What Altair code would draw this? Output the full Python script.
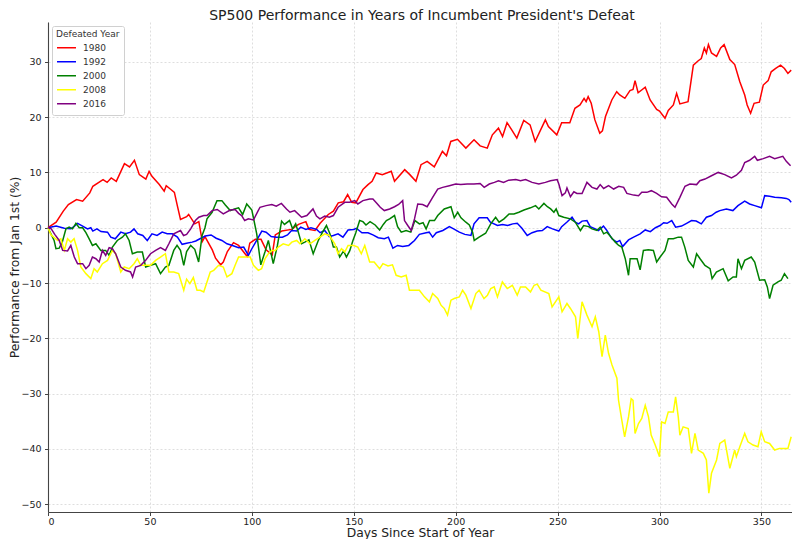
import pandas as pd
import altair as alt

# values (day of year, % change from Jan 1st)
days_1980 = [0, 4, 7.5, 10, 14, 17, 20.5, 22, 27, 29, 31, 33.5, 37.5, 40, 42.4, 44.8, 48, 49.6, 51, 54.6,
             57, 58, 60, 62, 63.5, 65, 68, 69, 72, 74, 75.7, 77, 80.6, 82.2, 84.7, 86, 88, 91, 93.5, 97.7,
             99, 101.7, 104.5, 107, 110, 111.5, 114.7, 119.5, 122.9, 126.5, 128, 131, 133.5, 137.5, 140,
             142.4, 145, 147, 149, 151, 154.5, 157, 159, 161, 164, 168.4, 170, 175, 177.5, 180.5, 183, 186,
             189.5, 193.5, 195.5, 197.6, 200.9, 205, 209, 212, 215.5, 218, 221, 223, 225.2, 227.5, 230,
             233.4, 236.5, 239, 244, 245.5, 249.6, 252, 256, 258.5, 261, 263, 264, 265, 266.5, 268.3, 270.7,
             272, 273.5, 276.6, 279, 280.5, 283, 285.5, 287, 288, 289.5, 293, 295.4, 298.6, 300, 302.7,
             304.3, 306.8, 308.4, 310, 314, 316.6, 319, 320.5, 322, 323, 324, 325.5, 328, 330, 331.7, 334.5,
             336.9, 339.4, 341.8, 343, 344.7, 346.4, 349, 350.9, 353.3, 354.8, 357, 359.4, 361.3, 363, 364.6]
perf_1980 = [0, 1, 3, 4.2, 5.1, 4.8, 6.3, 7.5, 8.7, 8.2, 9, 8.4, 11.6, 11, 12.2, 9.6, 8.8, 10.2, 9.3, 7.8,
             6.6, 7.6, 7, 6.4, 3.9, 1.5, 2, 2.4, 0.7, 1.1, -2.5, -1.6, -4, -5.5, -6.7, -6.2, -4.3, -2.7, -3.2,
             -5.2, -2.8, -2.1, -2.1, -4, -4.9, -1.3, -0.6, -0.3, 0.6, 1.1, -0.3, -0.5, 0.8, 2.4, 3, 4.5, 4.7,
             6, 4.6, 4.5, 6.9, 7.8, 8.4, 9.9, 9.6, 10.2, 8.4, 10.5, 9.6, 8.4, 11.4, 12, 11, 13.8, 13, 15.6,
             16, 14.4, 15.9, 14.8, 14.4, 16.8, 18, 16.5, 19, 17.7, 16.2, 19.4, 18.6, 15.6, 19.5, 18.3, 16.8,
             19, 19, 21.6, 22.2, 23.4, 22.8, 23.7, 22.5, 19.5, 17.1, 17.5, 20.1, 23.1, 24.6, 24, 23.4, 24.8,
             25, 26.6, 24.4, 25.4, 23.1, 21.4, 21.1, 19.8, 21.2, 22.2, 24.3, 22.4, 22.8, 29.4, 30.2, 30.6,
             32.5, 31.6, 33.1, 31.6, 31, 32.5, 33.1, 30.4, 29.5, 26.4, 24, 22.2, 20.7, 22.5, 22.7, 25.8, 26.6,
             28.2, 28.8, 29.4, 28.8, 27.9, 28.5]

days_1992 = [0, 4, 8, 11.2, 13, 14.5, 17, 19.4, 21, 22, 24, 26, 29.2, 30.8, 33, 35.7, 38, 40.5, 42.2, 44,
             46.5, 48.7, 51, 53.5, 56, 58.5, 61, 63.5, 65.8, 68, 70.7, 72.5, 75, 77.2, 80, 82.5, 85.3, 87.8,
             90.5, 93.5, 96, 98.3, 100, 102.5, 104.9, 107, 109.5, 112, 115, 117.5, 119.5, 122, 124, 126.5,
             129, 131.8, 133.5, 135.8, 138, 140, 142.3, 144.7, 147.2, 150, 151.3, 154, 157, 159.4, 162, 165,
             167, 169.2, 171.5, 174, 177, 179.8, 182.2, 185.5, 187, 188.7, 190.5, 193.7, 196.9, 199, 201.8,
             204.5, 207.5, 209, 211.5, 215.5, 217, 220.5, 223, 225.5, 228, 230.2, 232.5, 235.1, 237.5, 240,
             242.5, 244.9, 247.5, 250.6, 252, 254.5, 257.1, 258.7, 260.3, 262, 264.4, 266, 268.5, 270, 272.5,
             274, 276.7, 279, 280.5, 281.9, 284.8, 287.3, 290.5, 293, 295.5, 298, 300.3, 302, 303.7, 306,
             307.9, 310.8, 313.3, 315.7, 318, 320.5, 323, 325.5, 327.8, 329.6, 332.8, 336, 338.5, 341.8,
             344.2, 346.7, 350, 351.6, 354, 356.5, 359.8, 362.2, 363.5, 364.6]
perf_1992 = [0, 0.3, -0.1, -0.2, 0.3, 0.8, 0.3, -0.2, 0, -0.6, -0.2, -0.7, -0.8, -1.7, -2, -0.8, -1.1,
             -0.8, -0.2, -1.1, -1.4, -2.3, -1.1, -1.4, -0.8, -1.1, -1.1, -1.7, -3, -2.8, -2.6, -2.4, -1.9,
             -1.5, -1.3, -1.9, -2.3, -2.9, -3.2, -3.6, -3.5, -5, -3.8, -2.2, -0.6, -0.8, -1.6, -1.7, -1.7,
             -1.3, -0.5, -0.6, 0.1, -0.3, 0, -0.3, -0.9, -0.5, -1.6, -1.4, -1.1, -1.7, -0.4, -0.3, -0.1,
             -0.9, -0.9, -1.3, -1.8, -2, -1.7, -3.7, -3.2, -3.4, -3.2, -2.3, -1.2, -0.9, -0.8, -1.7, -0.9,
             -0.5, 0.2, -0.2, -0.8, -1.2, -1.4, 0.7, 1.8, 1.8, 1, 0.4, 0.6, 0.4, 0.7, 0.8, -0.1, -1.4, -0.9,
             -0.6, -0.5, 0.2, -0.2, -0.6, 0.2, 1, 1.9, 1, 0.7, 1.2, 1.3, 0.2, -0.2, -0.5, 0.3, -0.4, -2,
             -2.6, -2.3, -3.4, -2.2, -1.7, -1.1, -0.4, -0.7, 0, 0.4, 0.9, 0.8, 1.3, 0.1, 0.3, 0.8, 1.3, 1.2,
             0.7, 1.9, 2.2, 2.8, 3.1, 3.4, 3.1, 4, 4.8, 4.3, 4, 3.6, 5.8, 5.7, 5.5, 5.4, 5.3, 5.1, 4.6]

days_2000 = [0, 3, 3.9, 5.5, 7, 8.8, 10.4, 12, 13.7, 15.3, 17, 18.6, 20.2, 21.8, 23.5, 25.9, 28.3, 30,
             31.6, 34, 36.5, 38, 39.8, 41.4, 43.8, 46.3, 47.9, 50.3, 52.8, 55.2, 57.6, 59.3, 61.7, 63.3, 65,
             66.6, 68, 70, 72, 73.9, 75.6, 77, 78, 80.5, 82.9, 85.3, 87, 89.4, 91.5, 93.5, 95.5, 97.5, 100,
             102.4, 104.4, 106.5, 108.1, 110.5, 112.5, 114.6, 116, 118.5, 120, 121.5, 122.8, 124.4, 126, 128,
             130.1, 132.5, 134.7, 136.6, 138.3, 140, 141.5, 143.1, 145, 146.4, 148, 149.6, 151, 152.9, 154.5,
             156, 158, 160.5, 162.7, 164.5, 166, 167.6, 170, 171.5, 173.3, 175.7, 178, 180, 182.2, 184,
             185.5, 187.2, 189.6, 191.2, 194.4, 197.7, 199.3, 201, 202.6, 205, 206.7, 208.3, 209.1, 211.5,
             214.7, 217.2, 219.6, 221.3, 223.7, 226.2, 228.6, 231, 233.5, 236.7, 239.2, 240.8, 243.3, 245,
             246.6, 248.2, 249.3, 250.6, 253, 256.3, 258.7, 261.2, 262.8, 265.2, 266.9, 269.3, 270.9, 272.6,
             274.2, 276.7, 278.3, 280, 281.5, 283.2, 284.8, 285.6, 287.3, 289, 290.5, 292.1, 294.5, 297,
             298.6, 300.3, 302.7, 304.3, 306.8, 309.2, 310.8, 312.4, 314.1, 316.6, 318.2, 319.9, 322.3,
             324.8, 325.8, 327.9, 331.2, 333.7, 336.1, 337.7, 338.5, 340.2, 341.8, 345, 346.7, 349.1, 351.6,
             352.9, 354, 355.7, 358.1, 359.7, 361.3, 363]
perf_2000 = [0, -2.3, -3.8, -3.7, -2.6, -0.2, 0.1, -0.2, 0.8, 0, 0, -0.9, -2, -3.2, -2.9, -4.1, -4.1, -5,
             -3.5, -2.3, -1.7, -1.1, -2.3, -4.7, -4.4, -4.4, -7.1, -6.8, -6.5, -8.3, -7.1, -6.8, -4.1, -3.2,
             -4.1, -6.8, -4.3, -3.2, -3.9, -6.2, -1.4, 0, 1.6, 2.8, 4.9, 4.9, 4.1, 3.1, 3.4, 3.6, 2.4, 4.3,
             3.2, -1.1, -6.7, -4.3, -2.3, -6.5, -3.3, 1.2, 0.6, 1.3, -0.2, 0.7, -0.8, -2.9, -2.6, -2.2, -4.7,
             -2.4, -0.8, 0.4, -1.1, -3.5, -3.5, -5.3, -4.2, -5.3, -4.2, -2.3, -0.9, 1.3, 1.1, 0.5, 1.1, 0.5,
             -0.4, 0.6, 1.3, 1.6, 2.2, 0.2, -0.8, -0.5, -0.8, 1.3, 0.7, 0.9, -0.2, 1.3, 1.3, 2.2, 3.4, 3.8,
             1.8, 2.8, 1.8, 1, 0.5, -0.8, -2.3, -1.7, -1, 0.7, 1.9, 1, 1.6, 2.5, 2.5, 2.8, 3.2, 3.6, 4, 3.4,
             4.4, 3.8, 3.4, 2.8, 3.4, 2.2, 1.9, 1.6, 1, -0.5, 0.4, 0.2, -0.2, -0.5, 0.1, -1.1, -0.8, -1.9,
             -2.6, -3.2, -3.5, -5.6, -8.6, -5.6, -5.6, -5.6, -7.6, -4.1, -4, -4.1, -6.2, -5.3, -4.1, -2, -2,
             -1.7, -1.7, -3.5, -5.9, -7.1, -4.7, -5.6, -6.8, -7.4, -9.2, -8, -7.4, -9.6, -8.9, -8.9, -5.6,
             -7.4, -5.9, -5.3, -6.2, -9.5, -9.4, -10.7, -12.8, -10.4, -9.8, -9.5, -8.3, -9.2]

days_2008 = [0, 1.5, 4.7, 6.3, 8, 9.6, 11.2, 12.8, 14.5, 16.1, 18.6, 21, 22.6, 24.2, 26.7, 29.2, 31.6,
             33.2, 35.7, 37.4, 39.8, 42.2, 43.8, 45.5, 47.9, 50.3, 52.8, 55.2, 57.6, 59.3, 61.7, 64.1, 66.6,
             68, 69.6, 71.3, 73.1, 74.7, 76.4, 78, 79.6, 81.3, 83.7, 86, 87.8, 90.2, 91.8, 93.5, 96.7, 99.2,
             100.8, 103.2, 104.8, 106.5, 108.1, 109.8, 111.5, 113, 115.4, 118, 119.6, 122, 123.6, 126, 128.5,
             130.9, 133.4, 135.8, 138, 140.7, 142.3, 144, 145.6, 147.2, 150, 152, 153.7, 155.4, 157.8, 160,
             162.7, 164.3, 166.8, 169, 170.8, 173.3, 175.7, 177.3, 179.8, 182.2, 184.7, 187.1, 188.7, 191.2,
             192.8, 194.4, 196, 197.7, 199.3, 201.8, 203.4, 205, 207.5, 209.9, 211.5, 213.9, 215.6, 217.2,
             218.9, 220.5, 222.9, 225.3, 227.8, 230.2, 231.8, 234.3, 236.7, 238.5, 240, 241.8, 245.7, 247.3,
             250.6, 252.2, 254.6, 256.3, 258.8, 259.9, 262, 264.4, 266.9, 268.5, 270.2, 271.8, 273.4, 275,
             276.7, 279.1, 279.9, 281.5, 282.9, 284.8, 286.1, 287, 288, 289.7, 291.3, 293, 294.6, 295.9,
             297.9, 300, 301, 302.7, 304.3, 306.8, 307.9, 309.2, 310, 311.6, 314.1, 315.7, 317.4, 319, 321.5,
             323, 324.2, 325.5, 328, 329.6, 332, 334.5, 336.9, 337.7, 339.4, 341.8, 343.4, 345.9, 348.3,
             349.9, 351.6, 354, 356.5, 358.9, 361.3, 363, 364.6]
perf_2008 = [0, -1.3, -2.3, -2, -4.1, -2, -2.6, -2, -4.1, -7.1, -8.3, -9.2, -7.4, -8, -6.5, -5.9, -4.1,
             -4.7, -8, -7.1, -7.4, -6.5, -5.6, -6.8, -6.8, -6.8, -5.9, -5.3, -4.7, -8, -8, -8.3, -11.3, -9.3,
             -10.1, -9, -11.3, -11.3, -11.6, -9.8, -8, -7.7, -6.8, -7.1, -8.9, -8.3, -6.8, -5.3, -5.3, -5.3,
             -6.8, -7.7, -7.4, -5.6, -4.7, -4.1, -4.1, -3.5, -2.9, -3.2, -2.6, -2.3, -2.9, -2, -2.9, -2.3,
             -1.7, -1.1, -1.4, -2.9, -4.7, -3.8, -4.4, -3.2, -3.2, -3.5, -4.7, -3.2, -6.2, -6.2, -7.4, -6.5,
             -6.9, -6.7, -8.6, -8.9, -8.6, -11.3, -11.3, -11.3, -12.5, -13.4, -11.9, -12.8, -14, -14.6,
             -15.8, -13.1, -12.8, -12.5, -11.3, -12.2, -14.6, -11.9, -11.3, -12.8, -12.2, -11, -10.7, -12.5,
             -9.8, -11, -10.4, -12.2, -10.7, -10.7, -11.6, -10.4, -10.2, -11.3, -11.9, -14.3, -12.5, -15.2,
             -13.7, -14.6, -16.1, -20, -13.4, -15.8, -17.9, -16.1, -18.8, -23.3, -19.4, -22.7, -24.8, -27.2,
             -31.2, -34.8, -37.8, -34.2, -30.9, -31.2, -37.2, -35.4, -34.5, -32.1, -34.2, -37.5, -39.3,
             -41.4, -35.1, -35.4, -33.3, -33.3, -30.6, -34.2, -37.5, -36, -36.3, -40.8, -37.2, -40.2, -40.8,
             -42, -48, -44.4, -42, -39, -38.4, -43.5, -40.2, -41.4, -39.6, -37.2, -38.7, -39.3, -39.6,
             -36.9, -38.7, -39, -40.2, -39.9, -39.9, -39.9, -37.8]

days_2016 = [0, 1.6, 3.3, 5.5, 7.2, 9.6, 11.2, 12.9, 14.5, 17, 18.6, 20.2, 21.8, 23.5, 25.1, 26.7, 28.3,
             30, 31.6, 33.2, 35.7, 38, 40.5, 41.5, 43, 45.5, 47.9, 50.3, 52.8, 55.2, 57.6, 59.3, 61.7, 65,
             66.5, 68, 70, 72.3, 74, 76.4, 78, 80.5, 83, 86, 89.4, 91.8, 93.5, 95, 96.5, 98.3, 100.8, 103,
             104, 107, 109.8, 112, 114.5, 117, 118.7, 121, 124.4, 127, 130, 131.7, 133.4, 135.8, 138, 140,
             142.3, 145.6, 148, 150.5, 152, 154.5, 157.8, 159.4, 161.4, 163, 165, 167.6, 170, 172, 174,
             174.9, 176.5, 178.2, 179.8, 181.4, 183.8, 186, 188.7, 191.2, 193.6, 196.9, 200, 202.5, 205.7,
             209, 212, 214, 216.5, 219, 221, 223.5, 226, 229.5, 231.8, 234.3, 237.5, 240.8, 244, 246.5,
             249.8, 250.6, 252.2, 253.8, 254.6, 256.3, 258, 259.5, 262, 264.4, 266.9, 269.3, 270.9, 272.6,
             275, 277.5, 280, 282.4, 284, 287.3, 289.7, 291.3, 293.8, 296, 298.6, 301, 303.5, 306, 307.6,
             310, 312.5, 314.9, 318.2, 319.8, 322.3, 325.5, 328.8, 332, 335.3, 337.7, 340.2, 341.8, 344.2,
             346.7, 348, 350.9, 354, 356.5, 360.5, 362.2, 364.3]
perf_2016 = [0, -0.2, -1.2, -2.3, -4.1, -4.2, -3.2, -5.3, -6.5, -6.5, -7.4, -6.8, -5.3, -5.6, -6.2, -4.1,
             -5, -3.6, -3.8, -4.7, -7.1, -7.7, -8, -8.9, -7.1, -6.8, -5.9, -4.7, -4.1, -3.6, -4.1, -2.9,
             -1.1, -0.5, -1.4, -1.2, -0.2, 1.3, 1.9, 2.2, 2.2, 3.1, 3.3, 2.5, 3.2, 3.3, 2.6, 2.2, 1.3, 1.6,
             1.4, 3, 3.7, 4, 4.2, 3.9, 4.4, 3.4, 2.8, 3.1, 1.9, 2.2, 3.4, 2.1, 1.6, 2.1, 1.9, 2.2, 3.7, 4.6,
             4.6, 4.9, 4.3, 4.9, 5.2, 5.2, 4.4, 3.7, 3.1, 3.4, 3.8, 4.2, 4.9, 1.3, 0.4, -0.5, 1.6, 4.3, 4.2,
             3.8, 5.5, 7, 7.3, 7.6, 7.9, 7.8, 7.9, 7.9, 8, 7.3, 7.9, 8.2, 8.5, 8.2, 8.6, 8.7, 8.5, 8.7, 8.2,
             7.9, 8.2, 8.5, 8.7, 7.9, 5.8, 6.3, 7.2, 5.6, 6.5, 6.2, 6.2, 8.2, 7.3, 7, 7.8, 7.1, 7.6, 7, 7.5,
             7.3, 6.2, 5.9, 5.8, 6.4, 6.4, 6.7, 6.2, 5.6, 5.5, 4.3, 3.7, 5.5, 7.5, 7.9, 7.8, 8.5, 8.8, 9.4,
             10, 9.6, 9, 9.5, 10.4, 11.8, 12.2, 12.9, 12.2, 12.5, 12.9, 12.5, 12.9, 12, 11.2]

years = ['1980', '1992', '2000', '2008', '2016']
line_colors = ['red', 'blue', 'green', 'yellow', 'purple']
series = {
    '1980': (days_1980, perf_1980),
    '1992': (days_1992, perf_1992),
    '2000': (days_2000, perf_2000),
    '2008': (days_2008, perf_2008),
    '2016': (days_2016, perf_2016),
}
title_text = "SP500 Performance in Years of Incumbent President's Defeat"

rows = []
for year in years:
    d, p = series[year]
    for i, (x, y) in enumerate(zip(d, p)):
        rows.append({'Day': x, 'Performance': y, 'Defeated Year': year, 'order': i})
df = pd.DataFrame(rows)

font = 'DejaVu Sans'
W, H = 744, 490

lines = alt.Chart(df).mark_line(strokeWidth=1.5).encode(
    x=alt.X('Day:Q', title='Days Since Start of Year',
            scale=alt.Scale(domain=[0, 365], nice=False, zero=False),
            axis=alt.Axis(values=[0, 50, 100, 150, 200, 250, 300, 350], titleY=24,
                          titleBaseline='alphabetic', labelPadding=1)),
    y=alt.Y('Performance:Q', title='Performance from Jan 1st (%)',
            scale=alt.Scale(domain=[-51.4, 37.2], nice=False, zero=False),
            axis=alt.Axis(values=[-50, -40, -30, -20, -10, 0, 10, 20, 30], titleX=-30,
                          titleBaseline='alphabetic', labelPadding=3.5,
                          labelExpr="replace(datum.label, '-', '\u2212')")),
    color=alt.Color('Defeated Year:N',
                    scale=alt.Scale(domain=years, range=line_colors),
                    legend=alt.Legend(orient='none', legendX=4, legendY=4)),
    order='order:Q',
)

# chart title drawn as text above the plot area
title = alt.Chart(pd.DataFrame({'t': [title_text]})).mark_text(
    font=font, fontSize=14, color='#222222', baseline='alphabetic', align='center'
).encode(text='t:N', x=alt.value(374), y=alt.value(-2.5))

chart = alt.layer(lines, title).properties(
    width=W,
    height=H,
    autosize=alt.AutoSizeParams(type='none'),
    padding={'left': 40, 'top': 14, 'right': 0, 'bottom': 27},
).configure_view(
    stroke=None
).configure_axis(
    labelFont=font, labelFontSize=9.5, labelColor='#222222',
    titleFont=font, titleFontSize=12.3, titleFontWeight='normal', titleColor='#222222',
    domainColor='#444444', domainWidth=1.1,
    tickColor='#444444', tickSize=3.5,
    gridColor='#d5d5d5', gridDash=[2, 2], gridWidth=0.8,
).configure_legend(
    fillColor='white', strokeColor='#d0d0d0', cornerRadius=2, padding=4,
    titleFont=font, titleFontSize=9, titleFontWeight='normal', titleColor='#333333',
    titlePadding=2,
    labelFont=font, labelFontSize=9, labelColor='#333333',
    symbolType='stroke', symbolSize=360, symbolStrokeWidth=1.5, labelOffset=6,
    rowPadding=0, clipHeight=13.5,
)

chart.save('out.html', embed_options={'renderer': 'svg', 'actions': False})
